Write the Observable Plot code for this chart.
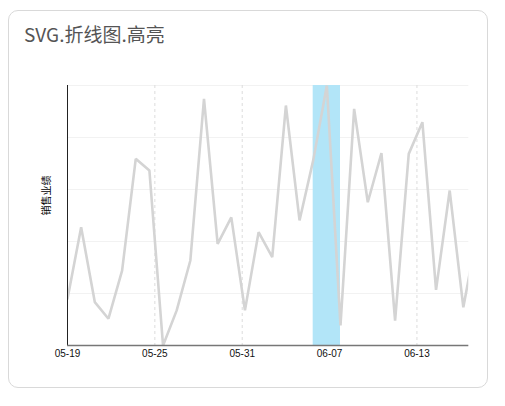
<!DOCTYPE html>
<html>
<head>
<meta charset="utf-8">
<script src="https://cdn.jsdelivr.net/npm/d3@7"></script>
<script src="https://cdn.jsdelivr.net/npm/@observablehq/plot@0.6"></script>
<style>
  html, body { margin: 0; padding: 0; background: #fff; }
  #card { position: absolute; left: 8px; top: 10px; width: 480px; height: 378px; box-sizing: border-box; border: 1px solid #d9d9d9; border-radius: 10px; }
  #title { position: absolute; left: 24px; top: 24px; font-family: "Noto Sans CJK SC", "Noto Sans", sans-serif; font-size: 19px; line-height: 19px; color: #555; white-space: nowrap; }
  #chart { position: absolute; left: 0; top: 60px; }
</style>
</head>
<body>
<div id="card"></div>
<div id="title">SVG.折线图.高亮</div>
<div id="chart"></div>
<script>
// ---- data ----
const dates = [
  "05-19","05-20","05-21","05-22","05-23","05-24","05-25","05-26","05-27","05-28",
  "05-29","05-30","05-31","06-01","06-02","06-03","06-04","06-05","06-06","06-07",
  "06-08","06-09","06-10","06-11","06-12","06-13","06-14","06-15","06-16","06-17","06-18"
];
const sales = [
  180, 455, 167, 103, 288, 718, 673, 0, 135, 327,
  949, 391, 493, 135, 436, 340, 923, 481, 712, 1000,
  77, 910, 551, 740, 96, 737, 859, 214, 596, 147, 430
];
const tickLabels = ["05-19", "05-25", "05-31", "06-07", "06-13"];
const highlightDate = "06-07";
const yLabel = "销售业绩";

// ---- derived tables ----
const rows = dates.map((d, i) => ({i, date: d, sales: sales[i]}));
const tickStep = 6.4; // axis places its ticks evenly over the range
const tickPos = tickLabels.map((_, k) => k * tickStep);
const hi = dates.indexOf(highlightDate);
const yExt = d3.extent(sales);
const yTicks = d3.ticks(yExt[0], yExt[1], 5);

const chart = Plot.plot({
  width: 505,
  height: 320,
  marginTop: 25,
  marginBottom: 35,
  marginLeft: 67,
  marginRight: 36.7,
  style: {fontFamily: "Liberation Sans, Arial, sans-serif", fontSize: "10px", color: "#111", background: "transparent"},
  x: {type: "linear", domain: [0, 29.4]},
  y: {domain: yExt},
  marks: [
    Plot.gridY(yTicks, {stroke: "#f2f2f2", strokeOpacity: 1}),
    Plot.gridX(tickPos.slice(1), {stroke: "#dcdcdc", strokeOpacity: 1, strokeDasharray: "3,3"}),
    Plot.rect([{x1: hi - 1, x2: hi + 1}], {x1: "x1", x2: "x2", fill: "#b2e5f8"}),
    Plot.line(rows, {x: "i", y: "sales", stroke: "#d4d4d4", strokeWidth: 2.6, strokeLinejoin: "miter", clip: true}),
    Plot.ruleX([0], {stroke: "#222", strokeWidth: 1}),
    Plot.ruleY([yExt[0]], {stroke: "#777", strokeWidth: 1.6}),
    Plot.axisX(tickPos, {tickSize: 0, tickPadding: 4, tickFormat: (d, k) => tickLabels[k], label: null, fill: "#111"}),
    Plot.axisY({ticks: [], label: null, tickSize: 0}),
    Plot.text([yLabel], {frameAnchor: "left", dx: -21, rotate: -90, fontFamily: "Noto Sans CJK SC", fontSize: 10, fill: "#000"})
  ]
});
document.getElementById("chart").appendChild(chart);
</script>
</body>
</html>
